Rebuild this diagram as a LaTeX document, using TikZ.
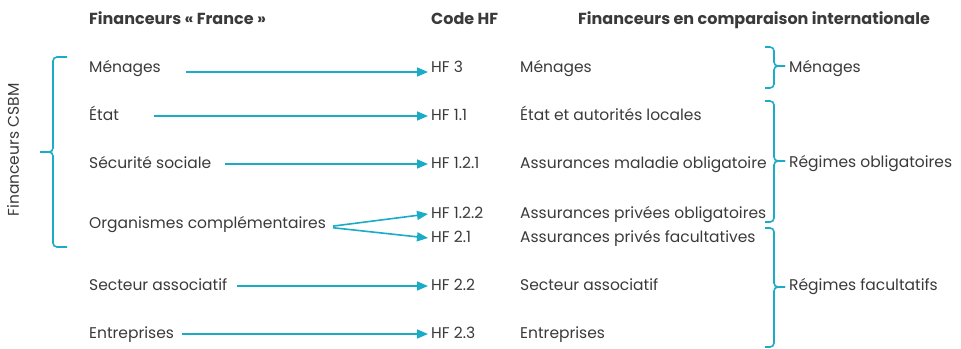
\documentclass[tikz,border=0pt]{standalone}
\usepackage{fontspec}
\setmainfont{Poppins}
\usetikzlibrary{arrows.meta}
\definecolor{turquoise}{HTML}{1AABC7}
\definecolor{texte}{HTML}{3A3A3A}

\begin{document}
\begin{tikzpicture}[x=1pt, y=-1pt,
    every node/.style={anchor=base west, inner sep=0pt, text height=12pt, text depth=4pt, text=texte, font=\fontsize{15.5}{18}\selectfont},
    entete/.style={font=\fontsize{16}{18}\selectfont\bfseries},
    flux/.style={draw=turquoise, line width=1.6pt, -{Triangle[length=11pt, width=9pt]}},
    accolade/.style={draw=turquoise, line width=1.6pt, rounded corners=4pt}]
  \useasboundingbox (0, 0) rectangle (961, 348);
  % en-tetes
  \node[entete] (hFrance) at (89, 24) {Financeurs « France »};
  \node[entete] (hCode) at (431, 24) {Code HF};
  \node[entete] (hInter) at (578, 24) {Financeurs en comparaison internationale};
  % financeurs France
  \node (frMen) at (89, 72) {Ménages};
  \node (frEtat) at (89, 120) {État};
  \node (frSecu) at (89, 168) {Sécurité sociale};
  \node (frOrg) at (89, 228) {Organismes complémentaires};
  \node (frAsso) at (89, 290) {Secteur associatif};
  \node (frEnt) at (89, 338) {Entreprises};
  % codes HF
  \node (hf3) at (431, 72) {HF 3};
  \node (hf11) at (431, 120) {HF 1.1};
  \node (hf121) at (431, 168) {HF 1.2.1};
  \node (hf122) at (431, 218) {HF 1.2.2};
  \node (hf21) at (431, 242) {HF 2.1};
  \node (hf22) at (431, 290) {HF 2.2};
  \node (hf23) at (431, 338) {HF 2.3};
  % financeurs internationaux
  \node (inMen) at (520, 72) {Ménages};
  \node (inEtat) at (520, 120) {État et autorités locales};
  \node (inMal) at (520, 168) {Assurances maladie obligatoire};
  \node (inPrivO) at (520, 218) {Assurances privées obligatoires};
  \node (inPrivF) at (520, 242) {Assurances privés facultatives};
  \node (inAsso) at (520, 290) {Secteur associatif};
  \node (inEnt) at (520, 338) {Entreprises};
  % regroupements
  \node[rotate=90, anchor=center] (csbm) at (15, 150) {Financeurs CSBM};
  \node (grMen) at (789, 72) {Ménages};
  \node (grObl) at (789, 167) {Régimes obligatoires};
  \node (grFac) at (789, 290) {Régimes facultatifs};

  \draw[flux, shorten <=25pt] ([yshift=-4pt]frMen.east) -- ([yshift=-4pt, xshift=-3pt]hf3.west);
  \draw[flux, shorten <=35pt] (frEtat.east) -- ([xshift=-3pt]hf11.west);
  \draw[flux, shorten <=13pt] (frSecu.east) -- ([xshift=-3pt]hf121.west);
  \draw[flux, shorten <=7pt] ([yshift=-3pt]frOrg.east) -- ([xshift=-3pt]hf122.west);
  \draw[flux, shorten <=7pt] ([yshift=-3pt]frOrg.east) -- ([xshift=-3pt]hf21.west);
  \draw[flux, shorten <=10pt] (frAsso.east) -- ([xshift=-3pt]hf22.west);
  \draw[flux, shorten <=8pt] (frEnt.east) -- ([xshift=-3pt]hf23.west);

  % accolades
  \draw[accolade] (67, 57) -| (53, 152) -- (40, 152);
  \draw[accolade] (40, 152) -- (53, 152) |- (67, 247);
  \draw[accolade] (765, 47) -| (774, 66) -- (785, 66);
  \draw[accolade] (785, 66) -- (774, 66) |- (765, 88);
  \draw[accolade] (765, 101) -| (774, 161) -- (785, 161);
  \draw[accolade] (785, 161) -- (774, 161) |- (765, 222);
  \draw[accolade] (765, 228) -| (774, 287) -- (785, 287);
  \draw[accolade] (785, 287) -- (774, 287) |- (765, 347);
\end{tikzpicture}
\end{document}
